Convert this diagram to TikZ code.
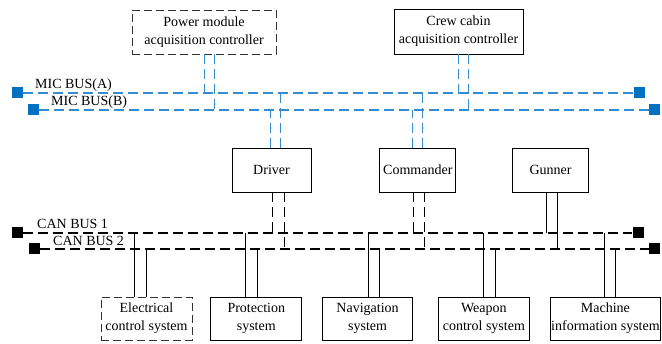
\documentclass[tikz,border=0pt]{standalone}
\usepackage{fontspec}
\setmainfont{Liberation Serif}
\usetikzlibrary{positioning}
\definecolor{micblue}{RGB}{0,112,192}
\definecolor{micline}{RGB}{52,140,210}
\definecolor{boxgray}{RGB}{50,50,50}
\tikzset{
    unit/.style={draw, line width=0.8pt, align=center, inner sep=1pt,
        font=\fontsize{14}{18}\selectfont},
    dunit/.style={unit, draw=boxgray, dash pattern=on 8pt off 4pt},
    sq/.style={fill, minimum size=11pt, inner sep=0pt},
    mic/.style={micline, line width=1.3pt, dash pattern=on 10pt off 5pt},
    can/.style={black, line width=1.1pt, dash pattern=on 10pt off 5pt},
    tap/.style={black, line width=1pt},
    buslabel/.style={font=\fontsize{14}{16}\selectfont, inner sep=0pt, anchor=base west}
}
\begin{document}
\begin{tikzpicture}[x=1pt, y=-1pt]
        \useasboundingbox (0,0) rectangle (662,344);
        % controllers
        \node[dunit, minimum width=144pt, minimum height=44pt] (pm) at (204, 32) {Power module\\acquisition controller};
        \node[unit, minimum width=129pt, minimum height=45pt] (crew) at (458.5, 31.5) {Crew cabin\\acquisition controller};
        % crew stations
        \node[unit, minimum width=79pt, minimum height=44pt] (drv) at (271.5, 170) {Driver};
        \node[unit, minimum width=76pt, minimum height=44pt, right=68pt of drv] (cmd) {Commander};
        \node[unit, minimum width=76pt, minimum height=44pt, right=56pt of cmd] (gun) {Gunner};
        % subsystems
        \node[dunit, minimum width=91pt, minimum height=43pt] (ele) at (146.5, 318.5) {Electrical\\control system};
        \node[unit, minimum width=91pt, minimum height=43pt, right=18pt of ele] (pro) {Protection\\system};
        \node[unit, minimum width=90pt, minimum height=43pt, right=20pt of pro] (nav) {Navigation\\system};
        \node[unit, minimum width=91pt, minimum height=43pt, right=25pt of nav] (wea) {Weapon\\control system};
        \node[unit, minimum width=109pt, minimum height=43pt, right=20pt of wea] (mac) {Machine\\information system};
        % MIC bus
        \node[sq, micblue] (micA1) at (17.5, 93) {};
        \node[sq, micblue] (micA2) at (639.5, 93) {};
        \node[sq, micblue] (micB1) at (33.5, 110) {};
        \node[sq, micblue] (micB2) at (654.5, 110) {};
        \draw[mic] (micA1) -- (micA2);
        \draw[mic] (micB1) -- (micB2);
        \node[buslabel] (labA) at (35, 89) {MIC BUS(A)};
        \node[buslabel] (labB) at (51, 106) {MIC BUS(B)};
        % CAN bus
        \node[sq] (canA1) at (17.5, 233) {};
        \node[sq] (canA2) at (638, 233) {};
        \node[sq] (canB1) at (34.5, 249) {};
        \node[sq] (canB2) at (654.5, 249) {};
        \draw[can] (canA1) -- (canA2);
        \draw[can] (canB1) -- (canB2);
        \node[buslabel] (lab1) at (37, 229) {CAN BUS 1};
        \node[buslabel] (lab2) at (53, 246) {CAN BUS 2};
        % controllers to MIC bus
        \draw[mic] ([xshift=0.5pt]pm.south) coordinate (t) -- (t |- micA1);
        \draw[mic] ([xshift=10.5pt]pm.south) coordinate (t) -- (t |- micB1);
        \draw[mic] ([xshift=0pt]crew.south) coordinate (t) -- (t |- micA1);
        \draw[mic] ([xshift=10pt]crew.south) coordinate (t) -- (t |- micB1);
        % stations to MIC bus
        \draw[mic] ([xshift=-1pt]drv.north) coordinate (t) -- (t |- micB1);
        \draw[mic] ([xshift=9pt]drv.north) coordinate (t) -- (t |- micA1);
        \draw[mic] ([xshift=-5.5pt]cmd.north) coordinate (t) -- (t |- micB1);
        \draw[mic] ([xshift=4.5pt]cmd.north) coordinate (t) -- (t |- micA1);
        % stations to CAN bus
        \draw[can] ([xshift=1pt]drv.south) coordinate (t) -- (t |- canA1);
        \draw[can] ([xshift=13pt]drv.south) coordinate (t) -- (t |- canB1);
        \draw[can] ([xshift=-4.5pt]cmd.south) coordinate (t) -- (t |- canA1);
        \draw[can] ([xshift=6.5pt]cmd.south) coordinate (t) -- (t |- canB1);
        \draw[tap] ([xshift=-4.5pt]gun.south) coordinate (t) -- (t |- canA1);
        \draw[tap] ([xshift=6.5pt]gun.south) coordinate (t) -- (t |- canB1);
        % subsystems to CAN bus
        \draw[tap] ([xshift=-12pt]ele.north) coordinate (t) -- (t |- canA1);
        \draw[tap] ([xshift=0pt]ele.north) coordinate (t) -- (t |- canB1);
        \draw[tap] ([xshift=-11pt]pro.north) coordinate (t) -- (t |- canA1);
        \draw[tap] ([xshift=1pt]pro.north) coordinate (t) -- (t |- canB1);
        \draw[tap] ([xshift=0.5pt]nav.north) coordinate (t) -- (t |- canA1);
        \draw[tap] ([xshift=11.5pt]nav.north) coordinate (t) -- (t |- canB1);
        \draw[tap] ([xshift=0pt]wea.north) coordinate (t) -- (t |- canA1);
        \draw[tap] ([xshift=12pt]wea.north) coordinate (t) -- (t |- canB1);
        \draw[tap] ([xshift=-1pt]mac.north) coordinate (t) -- (t |- canA1);
        \draw[tap] ([xshift=10pt]mac.north) coordinate (t) -- (t |- canB1);
\end{tikzpicture}
\end{document}
